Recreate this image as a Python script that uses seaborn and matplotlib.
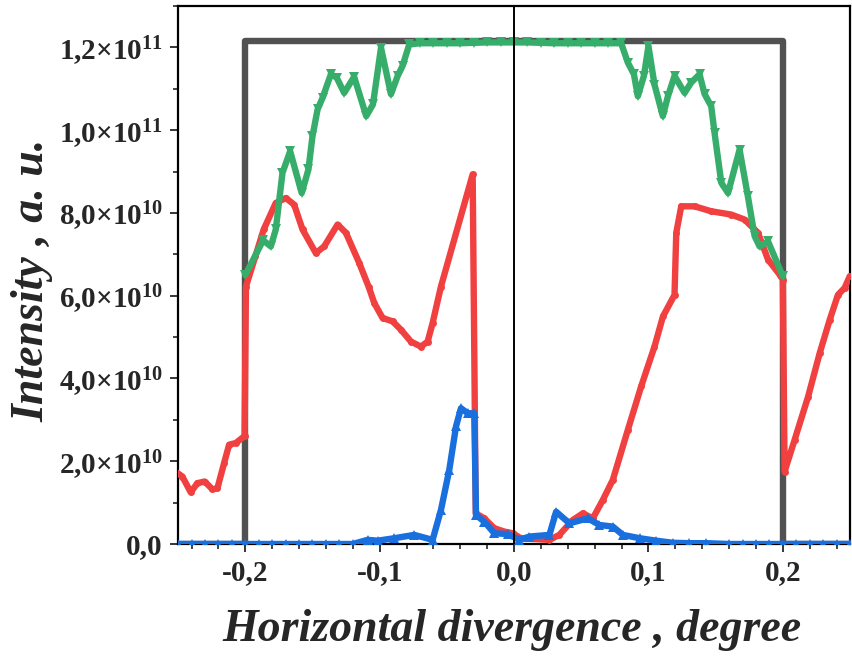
import matplotlib
matplotlib.use("Agg")
import matplotlib.pyplot as plt
import matplotlib.ticker as mticker
import pandas as pd
import seaborn as sns

# values
gray_x = [-0.25, -0.2, -0.2, 0.2, 0.2, 0.25]
gray_y = [0, 0, 1.215e11, 1.215e11, 0, 0]

green_x = [-0.2, -0.1867, -0.181, -0.1773, -0.1723, -0.1666, -0.158, -0.153, -0.15,
           -0.1462, -0.1425, -0.1363, -0.132, -0.1264, -0.119, -0.11, -0.105, -0.099,
           -0.0916, -0.0866, -0.083, -0.078, -0.07, -0.06, -0.05, -0.04, -0.03, -0.02,
           -0.01, 0.0, 0.01, 0.02, 0.03, 0.04, 0.05, 0.06, 0.07, 0.0797, 0.0847, 0.0892,
           0.0921, 0.0966, 0.1, 0.1045, 0.1107, 0.1145, 0.1194, 0.1269, 0.1318, 0.138,
           0.1418, 0.1467, 0.1492, 0.1542, 0.1592, 0.1678, 0.174, 0.179, 0.1827, 0.189, 0.2]
green_y = [6.5e10, 7.34e10, 7.19e10, 7.6e10, 8.97e10, 9.49e10, 8.48e10, 9.05e10, 9.85e10,
           1.05e11, 1.078e11, 1.135e11, 1.127e11, 1.09e11, 1.129e11, 1.034e11, 1.062e11, 1.199e11,
           1.087e11, 1.131e11, 1.155e11, 1.207e11, 1.21e11, 1.21e11, 1.21e11, 1.21e11, 1.211e11, 1.212e11,
           1.212e11, 1.212e11, 1.212e11, 1.211e11, 1.21e11, 1.21e11, 1.21e11, 1.21e11, 1.21e11, 1.21e11, 1.163e11, 1.135e11,
           1.082e11, 1.131e11, 1.203e11, 1.11e11, 1.034e11, 1.082e11, 1.131e11, 1.09e11, 1.115e11, 1.135e11,
           1.087e11, 1.058e11, 0.993e11, 0.873e11, 0.848e11, 0.953e11, 0.84e11, 0.744e11, 0.719e11, 0.731e11, 0.647e11]

red_x = [-0.252, -0.2468, -0.2406, -0.2356, -0.2302, -0.2244, -0.2207, -0.2158, -0.212, -0.207,
         -0.2005, -0.1995, -0.1925, -0.1863, -0.1773, -0.1698, -0.1636, -0.1574, -0.1475, -0.1413,
         -0.1313, -0.1251, -0.1152, -0.108, -0.104, -0.0978, -0.0904, -0.0842, -0.0767, -0.0693,
         -0.0643, -0.0606, -0.0544, -0.0308, -0.0285, -0.0221, -0.0147, -0.0072, -0.001, 0.005,
         0.0263, 0.0337, 0.0437, 0.0512, 0.0586, 0.066, 0.0735, 0.0847, 0.0946, 0.1045,
         0.1108, 0.1194, 0.1207, 0.1244, 0.1343, 0.1467, 0.1616, 0.1715, 0.1815, 0.189,
         0.1976, 0.2, 0.2013, 0.2088, 0.2188, 0.2274, 0.2349, 0.241, 0.246, 0.2498]
red_y = [1.75e10, 1.63e10, 1.25e10, 1.47e10, 1.51e10, 1.32e10, 1.35e10, 1.95e10, 2.4e10, 2.44e10,
         2.61e10, 6.22e10, 6.95e10, 7.6e10, 8.24e10, 8.36e10, 8.2e10, 7.6e10, 7.03e10, 7.19e10,
         7.72e10, 7.52e10, 6.79e10, 6.2e10, 5.82e10, 5.46e10, 5.38e10, 5.18e10, 4.89e10, 4.77e10,
         4.89e10, 5.34e10, 6.22e10, 8.93e10, 0.74e10, 0.62e10, 0.38e10, 0.3e10, 0.26e10, 0.14e10,
         0.1e10, 0.22e10, 0.58e10, 0.74e10, 0.62e10, 1.06e10, 1.55e10, 2.76e10, 3.81e10, 4.77e10,
         5.5e10, 6.02e10, 7.52e10, 8.16e10, 8.16e10, 8.04e10, 7.96e10, 7.84e10, 7.52e10, 6.87e10,
         6.51e10, 6.39e10, 1.75e10, 2.52e10, 3.56e10, 4.61e10, 5.42e10, 6.02e10, 6.19e10, 6.47e10]

blue_x = [-0.25, -0.24, -0.23, -0.22, -0.21, -0.2, -0.19, -0.18, -0.17, -0.16, -0.15, -0.14,
          -0.13, -0.12, -0.109, -0.1015, -0.089, -0.0743, -0.0606, -0.0544, -0.0482, -0.0432,
          -0.0395, -0.0345, -0.0296, -0.0283, -0.0221, -0.0147, -0.0047, 0.004, 0.0114, 0.0263,
          0.0313, 0.0412, 0.0549, 0.0635, 0.0735, 0.081, 0.0934, 0.1058, 0.118, 0.13, 0.143,
          0.16, 0.17, 0.18, 0.19, 0.2, 0.21, 0.22, 0.23, 0.24, 0.25]
blue_y = [0, 0, 0, 0, 0, 0, 0, 0, 0, 0, 0, 0,
          0, 0, 0.1e10, 0.08e10, 0.14e10, 0.22e10, 0.1e10, 0.82e10, 1.79e10, 2.84e10,
          3.28e10, 3.16e10, 3.16e10, 0.7e10, 0.54e10, 0.26e10, 0.24e10, 0.1e10, 0.18e10, 0.22e10,
          0.78e10, 0.5e10, 0.62e10, 0.46e10, 0.42e10, 0.22e10, 0.14e10, 0.08e10, 0.03e10, 0.02e10, 0.02e10,
          0, 0, 0, 0, 0, 0, 0, 0, 0, 0]

x_ticks = [-0.2, -0.1, 0.0, 0.1, 0.2]
x_tick_labels = ["-0,2", "-0,1", "0,0", "0,1", "0,2"]
y_ticks = [0, 2e10, 4e10, 6e10, 8e10, 1e11, 1.2e11]
y_tick_labels = ["0,0", "2,0×10$^{10}$", "4,0×10$^{10}$", "6,0×10$^{10}$",
                 "8,0×10$^{10}$", "1,0×10$^{11}$", "1,2×10$^{11}$"]

sns.set_style("ticks")
plt.rcParams["font.family"] = ["Liberation Serif", "DejaVu Serif"]
plt.rcParams["mathtext.default"] = "regular"

fig = plt.figure(figsize=(8.52, 6.59), dpi=100)
ax = fig.add_axes([0.209, 0.1745, 0.7887, 0.8164])

series = [
    (gray_x, gray_y, "#515151", None, 0, 2),
    (red_x, red_y, "#F14040", "o", 5, 3),
    (green_x, green_y, "#37AD6B", "v", 6.5, 4),
    (blue_x, blue_y, "#1A6FDF", "^", 6.5, 5),
]
for xs, ys, col, mk, ms, z in series:
    df = pd.DataFrame({"x": xs, "y": ys})
    sns.lineplot(data=df, x="x", y="y", ax=ax, color=col, lw=4.6, marker=mk,
                 markersize=ms, markeredgewidth=0, estimator=None, sort=False, zorder=z,
                 solid_joinstyle="round", solid_capstyle="round")

ax.axvline(0, color="black", lw=1.4, zorder=6)

ax.set_xlim(-0.25, 0.25)
ax.set_ylim(0, 1.3e11)
ax.set_xticks(x_ticks)
ax.set_xticklabels(x_tick_labels)
ax.set_yticks(y_ticks)
ax.set_yticklabels(y_tick_labels)
ax.xaxis.set_minor_locator(mticker.MultipleLocator(0.02))
ax.yaxis.set_minor_locator(mticker.MultipleLocator(1e10))
ax.tick_params(which="major", direction="out", length=6, width=1.3, labelsize=21, pad=5)
ax.tick_params(which="minor", direction="out", length=3.5, width=1.2)
for lbl in ax.get_xticklabels() + ax.get_yticklabels():
    lbl.set_fontweight("bold")

for sp in ax.spines.values():
    sp.set_linewidth(1.6)
    sp.set_color("black")

ax.set_xlabel("Horizontal divergence , degree", fontsize=33, fontweight="bold", fontstyle="italic")
ax.set_ylabel("Intensity , a. u.", fontsize=33, fontweight="bold", fontstyle="italic")
ax.xaxis.set_label_coords(0.497, -0.12)
ax.yaxis.set_label_coords(-0.186, 0.49)

fig.savefig("out.png", dpi=100)
